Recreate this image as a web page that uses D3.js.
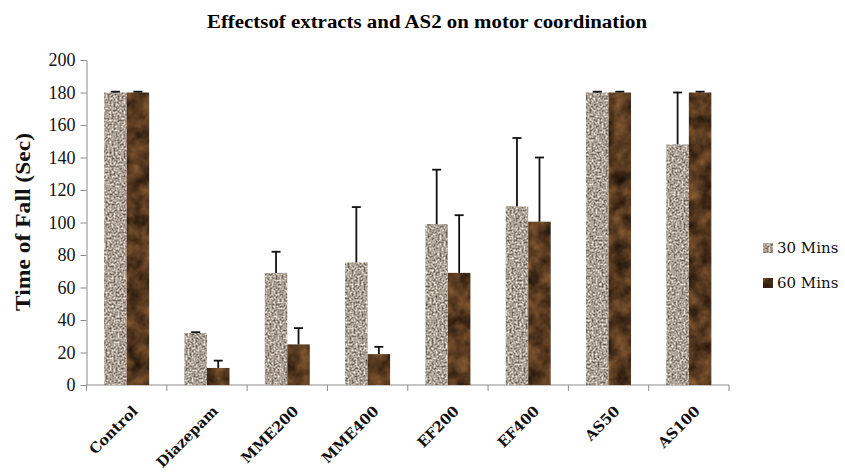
<!DOCTYPE html>
<html>
<head>
<meta charset="utf-8">
<script src="https://cdn.jsdelivr.net/npm/d3@7/dist/d3.min.js"></script>
<style>
  body { margin: 0; background: #fff; }
  svg { display: block; }
</style>
</head>
<body>
<svg id="chart"></svg>
<script>
// data
var categories = ["Control", "Diazepam", "MME200", "MME400", "EF200", "EF400", "AS50", "AS100"];
var mins30 = [180, 32, 69, 75.5, 99, 110, 180, 148];
var err30 = [0.5, 0.5, 13, 34, 33.5, 42, 0.5, 32];
var mins60 = [180, 10.5, 25, 19, 69, 100.5, 180, 180];
var err60 = [0.5, 4.5, 10, 4.5, 35.5, 39.5, 0.5, 0.5];
var seriesNames = ["30 Mins", "60 Mins"];
var yTicks = [0, 20, 40, 60, 80, 100, 120, 140, 160, 180, 200];

var width = 845, height = 475;
var margin = { top: 60, right: 116, bottom: 90, left: 86.5 };

var svg = d3.select("#chart")
    .attr("width", width)
    .attr("height", height);

// ---- textures (noise filters) ----
var defs = svg.append("defs");

function texture(id, freq, oct, seed, matrix) {
  var f = defs.append("filter").attr("id", id)
      .attr("x", 0).attr("y", 0).attr("width", 1).attr("height", 1)
      .attr("color-interpolation-filters", "sRGB");
  f.append("feTurbulence").attr("type", "fractalNoise")
      .attr("baseFrequency", freq).attr("numOctaves", oct).attr("seed", seed).attr("result", "n");
  f.append("feColorMatrix").attr("in", "n").attr("type", "matrix")
      .attr("values", matrix).attr("result", "c");
  f.append("feComposite").attr("in", "c").attr("in2", "SourceGraphic").attr("operator", "in");
}
texture("tex30", 0.5, 2, 4, "1.1 0 0 0 0.12  1.1 0 0 0 0.08  1.1 0 0 0 0.03  0 0 0 0 1");
texture("tex60", 0.07, 3, 9, "0.55 0 0 0 0.06  0.38 0 0 0 0.03  0.22 0 0 0 0.01  0 0 0 0 1");

var fills = ["#b0a292", "#4f3119"];
var filters = ["url(#tex30)", "url(#tex60)"];

// ---- scales ----
var x = d3.scaleBand()
    .domain(categories)
    .range([margin.left, width - margin.right]);

var y = d3.scaleLinear()
    .domain([0, 200])
    .range([height - margin.bottom, margin.top]);

var barW = 22.5;

// ---- axes ----
var yAxis = svg.append("g")
    .attr("transform", "translate(" + margin.left + ",0)")
    .call(d3.axisLeft(y).tickValues(yTicks).tickSize(6).tickSizeOuter(0).tickPadding(5));
yAxis.select(".domain").attr("stroke", "#8a8a8a");
yAxis.selectAll(".tick line").attr("stroke", "#8a8a8a");
yAxis.selectAll(".tick text")
    .style("font-family", "'Liberation Serif', serif")
    .style("font-size", "18px")
    .attr("fill", "#111");

var xAxis = svg.append("g")
    .attr("transform", "translate(0," + y(0) + ")");
xAxis.append("line")
    .attr("x1", margin.left).attr("x2", width - margin.right)
    .attr("stroke", "#8a8a8a");
xAxis.selectAll(".tk")
    .data(categories.concat(["end"]))
    .enter().append("line")
    .attr("class", "tk")
    .attr("x1", (d, i) => i < categories.length ? x(d) : x.range()[1])
    .attr("x2", (d, i) => i < categories.length ? x(d) : x.range()[1])
    .attr("y1", 0).attr("y2", 6)
    .attr("stroke", "#8a8a8a");

xAxis.selectAll(".lbl")
    .data(categories)
    .enter().append("text")
    .attr("class", "lbl")
    .attr("transform", d => "translate(" + (x(d) + x.bandwidth() / 2 + 12) + ",27) rotate(-45)")
    .attr("text-anchor", "end")
    .style("font-family", "'DejaVu Serif', serif")
    .style("font-weight", "bold")
    .style("font-size", "14.5px")
    .attr("fill", "#111")
    .text(d => d);

// ---- bars ----
var sets = [mins30, mins60];
var errs = [err30, err60];

sets.forEach(function(vals, s) {
  var g = svg.append("g");
  g.selectAll("rect")
      .data(vals)
      .enter().append("rect")
      .attr("x", (d, i) => x(categories[i]) + x.bandwidth() / 2 - barW + s * barW)
      .attr("y", d => y(d))
      .attr("width", barW)
      .attr("height", d => y(0) - y(d))
      .attr("fill", fills[s])
      .attr("filter", filters[s]);
});

// error bars (upper only)
sets.forEach(function(vals, s) {
  var g = svg.append("g").attr("stroke", "#111").attr("stroke-width", 1.8);
  vals.forEach(function(v, i) {
    var cx = x(categories[i]) + x.bandwidth() / 2 - barW / 2 + s * barW;
    var top = v + errs[s][i];
    g.append("line").attr("x1", cx).attr("x2", cx).attr("y1", y(v)).attr("y2", y(top));
    g.append("line").attr("x1", cx - 4.5).attr("x2", cx + 4.5).attr("y1", y(top)).attr("y2", y(top));
  });
});

// ---- title ----
svg.append("text")
    .attr("x", 427)
    .attr("y", 28)
    .attr("text-anchor", "middle")
    .style("font-family", "'Liberation Serif', serif")
    .style("font-weight", "bold")
    .style("font-size", "18px")
    .attr("textLength", 440)
    .attr("lengthAdjust", "spacingAndGlyphs")
    .text("Effectsof extracts and AS2 on motor coordination");

// ---- y title ----
svg.append("text")
    .attr("transform", "translate(30," + 222 + ") rotate(-90)")
    .attr("text-anchor", "middle")
    .style("font-family", "'Liberation Serif', serif")
    .style("font-weight", "bold")
    .style("font-size", "20px")
    .attr("textLength", 178)
    .attr("lengthAdjust", "spacingAndGlyphs")
    .attr("fill", "#111")
    .text("Time of Fall (Sec)");

// ---- legend ----
var legend = svg.append("g")
    .selectAll("g")
    .data(seriesNames)
    .enter().append("g")
    .attr("transform", (d, i) => "translate(763," + (248 + i * 35) + ")");

legend.append("rect")
    .attr("x", 0).attr("y", -5)
    .attr("width", 10).attr("height", 10)
    .attr("fill", (d, i) => fills[i])
    .attr("filter", (d, i) => filters[i]);

legend.append("text")
    .attr("x", 14)
    .attr("dy", "0.36em")
    .style("font-family", "'DejaVu Serif', serif")
    .style("font-size", "15px")
    .attr("fill", "#111")
    .text(d => d);
</script>
</body>
</html>
